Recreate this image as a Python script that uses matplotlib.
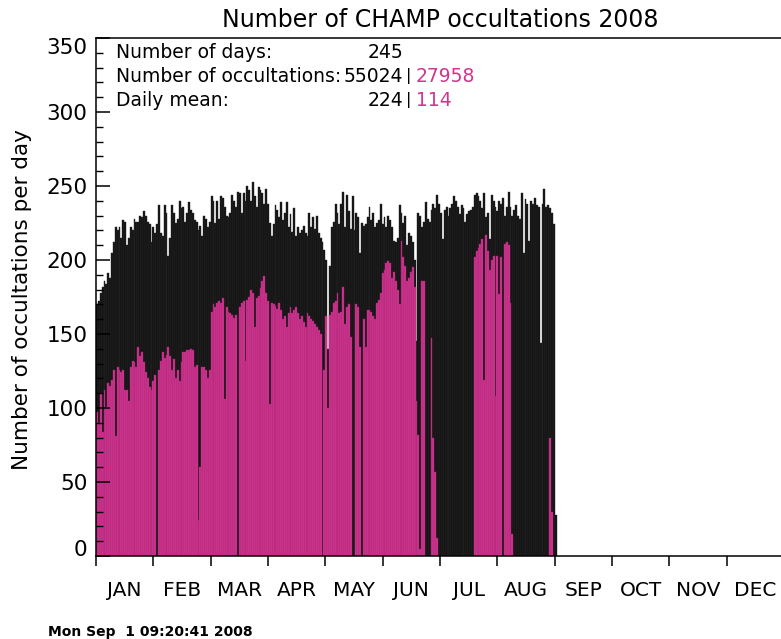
import matplotlib
matplotlib.use("Agg")
import matplotlib.pyplot as plt
import matplotlib.transforms as mtransforms
import numpy as np

# daily counts, Jan 1 .. Sep 1 2008 (245 days)
all_occ = (
    # Jan
    [170, 172, 178, 182, 186, 184, 191, 188, 205, 212, 222, 220, 222, 215, 227, 226,
     210, 215, 222, 220, 228, 226, 226, 230, 229, 233, 230, 226, 224, 212, 222]
    # Feb
    + [218, 224, 237, 218, 216, 237, 232, 203, 215, 237, 232, 225, 228, 240, 235,
       236, 226, 232, 239, 234, 232, 227, 226, 220, 223, 216, 230, 228, 222]
    # Mar
    + [226, 243, 240, 225, 240, 228, 243, 242, 236, 230, 229, 232, 244, 240, 236, 246,
       245, 232, 245, 240, 250, 247, 240, 253, 243, 236, 249, 247, 245, 238, 248]
    # Apr
    + [238, 225, 216, 224, 237, 234, 229, 239, 227, 232, 239, 222, 231, 219, 235,
       216, 222, 218, 220, 223, 218, 216, 232, 222, 229, 221, 230, 218, 215, 212]
    # May
    + [207, 200, 140, 196, 222, 226, 238, 232, 224, 238, 246, 222, 244, 233, 221, 243,
       220, 232, 229, 205, 225, 223, 224, 229, 236, 227, 232, 222, 225, 227, 238]
    # Jun
    + [224, 229, 222, 230, 227, 222, 213, 212, 215, 237, 232, 225, 230, 210, 218,
       216, 212, 200, 145, 232, 230, 222, 226, 239, 228, 226, 234, 238, 235, 244]
    # Jul
    + [238, 232, 214, 234, 236, 230, 235, 238, 243, 240, 236, 231, 237, 235, 226, 231,
       233, 234, 236, 244, 245, 243, 240, 235, 245, 229, 232, 214, 244, 240, 236]
    # Aug
    + [233, 240, 238, 242, 230, 236, 246, 236, 230, 234, 237, 230, 228, 245, 205, 241,
       238, 213, 240, 238, 242, 237, 236, 144, 238, 248, 236, 237, 235, 232, 224]
    # Sep
    + [28]
)

sub_occ = (
    # Jan
    [97, 90, 110, 84, 112, 101, 117, 115, 119, 126, 81, 128, 126, 124, 126, 112,
     112, 105, 128, 132, 131, 128, 141, 135, 138, 131, 124, 120, 114, 112, 118]
    # Feb
    + [122, 0, 126, 132, 138, 134, 136, 141, 135, 126, 133, 120, 126, 118, 131,
       138, 138, 139, 139, 140, 139, 128, 129, 24, 60, 128, 128, 126, 120]
    # Mar
    + [126, 165, 170, 168, 171, 172, 171, 174, 106, 168, 165, 164, 163, 161, 163, 0,
       168, 171, 172, 132, 173, 175, 180, 178, 155, 174, 176, 181, 186, 189, 178]
    # Apr
    + [172, 103, 171, 170, 169, 167, 171, 166, 160, 162, 155, 164, 168, 164, 166,
       168, 164, 160, 162, 158, 155, 164, 162, 160, 159, 157, 155, 153, 150, 0]
    # May
    + [126, 162, 100, 163, 165, 171, 172, 178, 164, 165, 182, 157, 168, 170, 148, 0,
       0, 170, 168, 141, 0, 160, 141, 166, 166, 165, 162, 160, 171, 173, 178]
    # Jun
    + [191, 193, 198, 199, 198, 188, 192, 186, 180, 170, 213, 202, 196, 186, 188,
       192, 195, 182, 105, 82, 5, 186, 186, 0, 0, 0, 147, 80, 57, 12]
    # Jul
    + [0] * 19 + [202, 206, 208, 211, 214, 119, 217, 206, 193, 200, 203, 108]
    # Aug
    + [203, 177, 202, 0, 211, 212, 210, 171, 15] + [0] * 19 + [80, 30, 0]
    # Sep
    + [0]
)

months = ["JAN", "FEB", "MAR", "APR", "MAY", "JUN",
          "JUL", "AUG", "SEP", "OCT", "NOV", "DEC"]
n_days_txt = "245"
n_occ_txt = "55024"
n_occ_sub_txt = "27958"
mean_txt = "224"
mean_sub_txt = "114"

MAGENTA = "#CE3690"
W, H = 781, 639

fig = plt.figure(figsize=(W / 100, H / 100), dpi=100)
ax = fig.add_axes([96 / W, 1 - 556 / H, 688 / W, (556 - 38) / H])

days = np.arange(len(all_occ))
ax.bar(days, all_occ, width=1.0, align="edge", color="#111111",
       edgecolor="#2a2a2a", linewidth=0.3)
ax.bar(days, sub_occ, width=1.0, align="edge", color=MAGENTA,
       edgecolor="#a8236f", linewidth=0.3)

ax.set_xlim(0, 366)
ax.set_ylim(0, 350)

# month boundaries (equal spacing, 366/12) and month names in between
step = 366 / 12
ax.set_xticks([i * step for i in range(13)])
ax.set_xticklabels([])
ax.set_xticks([(i + 0.5) * step for i in range(12)], minor=True)
ax.set_xticklabels(months, minor=True)
ax.tick_params(axis="x", which="major", direction="out", length=7, width=1.1)
ax.tick_params(axis="x", which="minor", length=0, pad=18, labelsize=14.5)

ax.set_yticks(np.arange(0, 351, 50))
ax.set_yticks(np.arange(0, 351, 10), minor=True)
ax.tick_params(axis="y", which="major", direction="in", length=10, width=1.1,
               pad=6, labelsize=15.5)
ax.tick_params(axis="y", which="minor", direction="in", length=5, width=1.0)

for s in ["left", "bottom", "top"]:
    ax.spines[s].set_linewidth(1.1)
ax.spines["right"].set_visible(False)

# end labels sit inside the axis range in the original
fig.canvas.draw()
ylabs = ax.get_yticklabels()
ylabs[0].set_transform(ylabs[0].get_transform()
                       + mtransforms.ScaledTranslation(0, 8 / 100, fig.dpi_scale_trans))
ylabs[-1].set_transform(ylabs[-1].get_transform()
                        + mtransforms.ScaledTranslation(0, -8 / 100, fig.dpi_scale_trans))

ax.set_title("Number of CHAMP occultations 2008", fontsize=17, pad=8)
fig.text(22 / W, 1 - 300 / H, "Number of occultations per day", rotation=90,
         ha="center", va="center", fontsize=15.5)

# summary block
fs = 13.5
rows = [52, 76, 100]
fig.text(116 / W, 1 - rows[0] / H, "Number of days:", fontsize=fs, va="center")
fig.text(116 / W, 1 - rows[1] / H, "Number of occultations:", fontsize=fs, va="center")
fig.text(116 / W, 1 - rows[2] / H, "Daily mean:", fontsize=fs, va="center")
fig.text(403 / W, 1 - rows[0] / H, n_days_txt, fontsize=fs, va="center", ha="right")
fig.text(403 / W, 1 - rows[1] / H, n_occ_txt, fontsize=fs, va="center", ha="right")
fig.text(403 / W, 1 - rows[2] / H, mean_txt, fontsize=fs, va="center", ha="right")
fig.text(409 / W, 1 - rows[1] / H, "|", fontsize=fs - 2, va="center", ha="center")
fig.text(409 / W, 1 - rows[2] / H, "|", fontsize=fs - 2, va="center", ha="center")
fig.text(416 / W, 1 - rows[1] / H, n_occ_sub_txt, fontsize=fs, va="center",
         color=MAGENTA)
fig.text(416 / W, 1 - rows[2] / H, mean_sub_txt, fontsize=fs, va="center",
         color=MAGENTA)

fig.text(48 / W, 1 - 632 / H, "Mon Sep  1 09:20:41 2008", fontsize=10,
         fontweight="bold", va="center")

fig.savefig("out.png", dpi=100)
